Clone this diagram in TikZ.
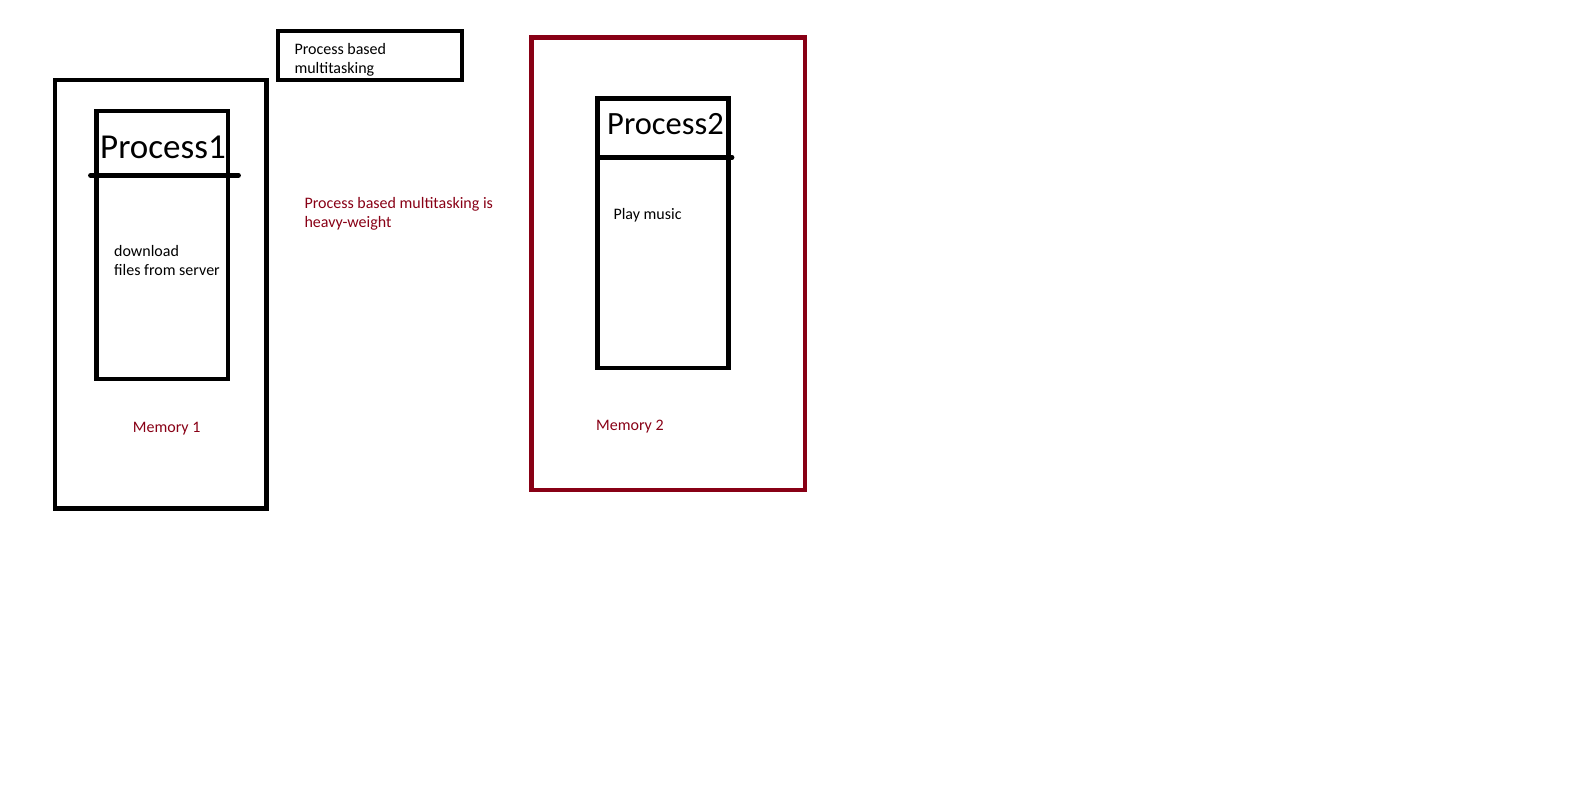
\documentclass[tikz,border=0pt]{standalone}
\usepackage{fontspec}
\setmainfont{Carlito}
\definecolor{paintred}{HTML}{880015}
\begin{document}
\begin{tikzpicture}[x=1pt, y=-1pt,
  box/.style={line width=4.8pt},
  small/.style={anchor=base west, inner sep=0pt, align=left, font=\fontsize{16}{19}\selectfont},
  big/.style={anchor=base west, inner sep=0pt}]
  \useasboundingbox (0,0) rectangle (1570,788);

  % title box (base of a two-line node is its last line)
  \draw[box] (278,31) rectangle (462,80);
  \node[small] (title) at (294.3,73.7) {Process based\\multitasking};

  % memory 1 with process 1
  \draw[box] (55,80) rectangle (266.5,508.5);
  \draw[box] (96.7,111) rectangle (228,379);
  \draw[box, line cap=round] (90.5,175.3) -- (238.5,175.3);
  \node[big, font=\fontsize{35}{41}\selectfont] (proc1) at (100,158.5) {Process1};
  \node[small] (task1) at (114,275.7) {download\\files from server};
  \node[small, text=paintred] (mem1) at (132.7,432.3) {Memory 1};

  % note
  \node[small, text=paintred] (note) at (304.3,227.3) {Process based multitasking is\\heavy-weight};

  % memory 2 with process 2
  \draw[box, paintred] (531.7,37.3) rectangle (805,490);
  \draw[box] (597.7,98.7) rectangle (728.3,368);
  \draw[box, line cap=round] (597.7,157.3) -- (732,157.3);
  \node[big, font=\fontsize{32.5}{38}\selectfont] (proc2) at (607,134.5) {Process2};
  \node[small] (task2) at (613.3,219) {Play music};
  \node[small, text=paintred] (mem2) at (596,430) {Memory 2};
\end{tikzpicture}
\end{document}
